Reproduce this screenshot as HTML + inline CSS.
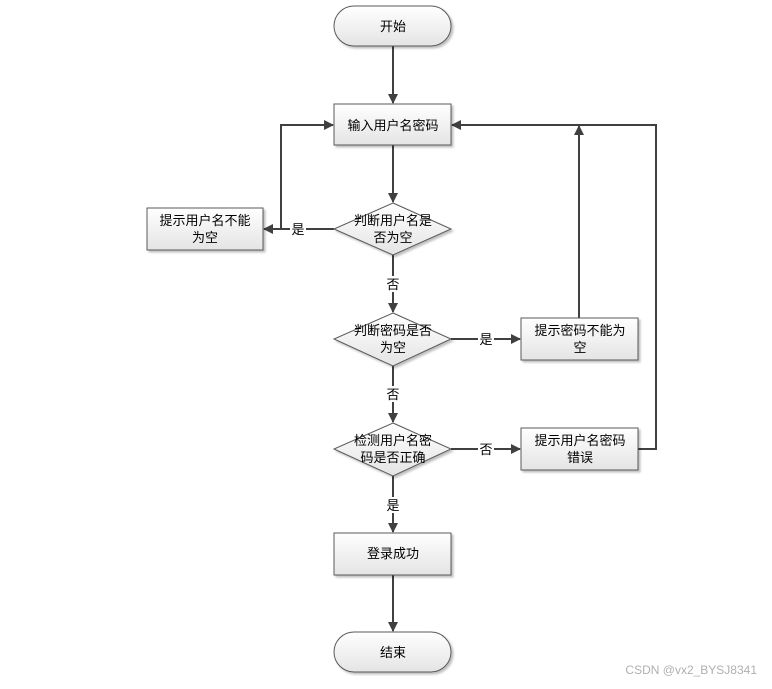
<!DOCTYPE html>
<html><head><meta charset="utf-8"><style>
html,body{margin:0;padding:0;background:#fff;}
svg text{font-family:"Liberation Sans","Noto Sans CJK SC",sans-serif;font-size:13px;fill:#000;}
</style></head><body>
<svg width="772" height="684" viewBox="0 0 772 684" xmlns="http://www.w3.org/2000/svg">
<defs>
<linearGradient id="g" x1="0" y1="0" x2="0" y2="1"><stop offset="0" stop-color="#ffffff"/><stop offset="1" stop-color="#e4e4e4"/></linearGradient>
<marker id="a" markerWidth="10" markerHeight="10" refX="9" refY="5" orient="auto" markerUnits="userSpaceOnUse"><path d="M0,0 L10,5 L0,10 z" fill="#404040"/></marker>
<filter id="s" x="-10%" y="-10%" width="130%" height="140%"><feDropShadow dx="2" dy="2" stdDeviation="1" flood-color="#000" flood-opacity="0.25"/></filter>
</defs>
<g stroke="#404040" stroke-width="2" fill="none">
<line x1="393" y1="46" x2="393" y2="103" marker-end="url(#a)"/>
<line x1="393" y1="145" x2="393" y2="202" marker-end="url(#a)"/>
<polyline points="334,229 281,229 281,125 333,125" marker-end="url(#a)"/>
<line x1="281" y1="229" x2="264" y2="229" marker-end="url(#a)"/>
<line x1="393" y1="255" x2="393" y2="312" marker-end="url(#a)"/>
<line x1="451" y1="339" x2="520" y2="339" marker-end="url(#a)"/>
<line x1="579" y1="318" x2="579" y2="126" marker-end="url(#a)"/>
<line x1="393" y1="366" x2="393" y2="422" marker-end="url(#a)"/>
<line x1="451" y1="449" x2="520" y2="449" marker-end="url(#a)"/>
<polyline points="638,449 656,449 656,125 452,125" marker-end="url(#a)"/>
<line x1="393" y1="476" x2="393" y2="532" marker-end="url(#a)"/>
<line x1="393" y1="575" x2="393" y2="631" marker-end="url(#a)"/>
</g>
<g fill="url(#g)" stroke="#5a5a5a" stroke-width="1" filter="url(#s)">
<rect x="334" y="6" width="117" height="40" rx="20"/>
<rect x="334" y="104" width="117" height="41"/>
<polygon points="393,203 451,229 393,255 334,229"/>
<rect x="147" y="208" width="116" height="42"/>
<polygon points="393,313 451,339 393,366 334,339"/>
<rect x="521" y="318" width="117" height="42"/>
<polygon points="393,423 451,449 393,476 334,449"/>
<rect x="521" y="428" width="117" height="42"/>
<rect x="334" y="533" width="117" height="42"/>
<rect x="334" y="632" width="117" height="40" rx="20"/>
</g>
<g text-anchor="middle">
<text x="393" y="31">开始</text>
<text x="393" y="130">输入用户名密码</text>
<text x="393" y="225">判断用户名是</text><text x="393" y="242">否为空</text>
<text x="205" y="225">提示用户名不能</text><text x="205" y="242">为空</text>
<text x="393" y="335">判断密码是否</text><text x="393" y="352">为空</text>
<text x="580" y="335">提示密码不能为</text><text x="580" y="352">空</text>
<text x="393" y="445">检测用户名密</text><text x="393" y="462">码是否正确</text>
<text x="580" y="445">提示用户名密码</text><text x="580" y="462">错误</text>
<text x="393" y="558">登录成功</text>
<text x="393" y="657">结束</text>
</g>
<g text-anchor="middle" font-size="12">
<rect x="290" y="221" width="16" height="16" fill="#fff"/><text x="298" y="234">是</text>
<rect x="385" y="276" width="16" height="16" fill="#fff"/><text x="393" y="289">否</text>
<rect x="385" y="386" width="16" height="16" fill="#fff"/><text x="393" y="399">否</text>
<rect x="385" y="497" width="16" height="16" fill="#fff"/><text x="393" y="510">是</text>
<rect x="478" y="331" width="16" height="16" fill="#fff"/><text x="486" y="344">是</text>
<rect x="478" y="441" width="16" height="16" fill="#fff"/><text x="486" y="454">否</text>
</g>
<text x="757" y="674" text-anchor="end" style="font-size:12px;fill:#b0b0b0">CSDN @vx2_BYSJ8341</text>
</svg>
</body></html>
